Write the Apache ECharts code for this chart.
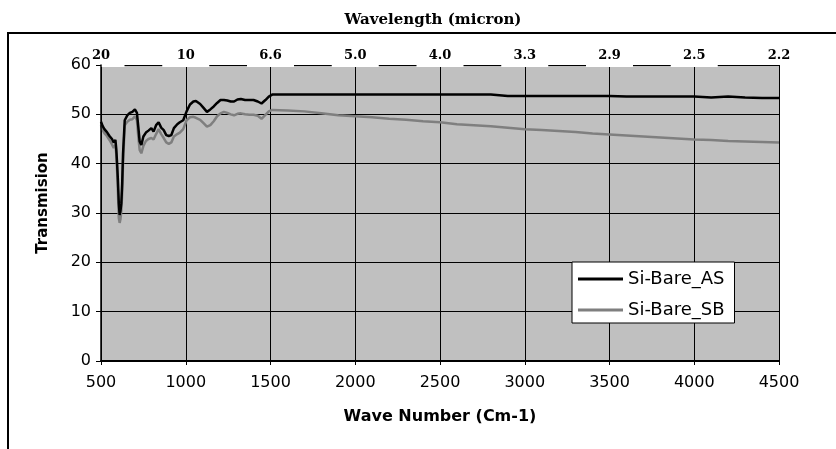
<!DOCTYPE html>
<html><head><meta charset="utf-8">
<script src="https://cdn.jsdelivr.net/npm/echarts@6/dist/echarts.min.js"></script>
<style>html,body{margin:0;padding:0;background:#fff}#c{width:836px;height:449px}</style>
</head><body><div id="c"></div>
<script>
// Wave number (cm-1) sample positions
const waveNumber = [500,510,520,535,550,565,575,585,590,595,600,605,610,615,620,625,630,640,655,670,685,700,712,720,728,738,750,765,780,797,810,825,840,855,870,885,900,915,930,950,965,985,1005,1025,1045,1060,1085,1105,1125,1145,1165,1185,1205,1225,1245,1265,1285,1305,1325,1350,1375,1400,1425,1447,1470,1490,1510,1600,1700,1800,1900,2000,2100,2200,2300,2400,2500,2600,2700,2800,2900,3000,3100,3200,3300,3400,3500,3600,3700,3800,3900,4000,4100,4200,4300,4400,4500];
// Transmission, Si-Bare_AS (black)
const siBareAS = [48.5,47.6,47.0,46.4,45.6,45.0,44.3,44.8,43.0,40.0,36.5,32.0,29.6,30.5,32.0,36.0,42.0,48.8,49.8,50.3,50.5,51.0,50.3,47.5,44.5,43.8,45.5,46.3,46.7,47.2,46.5,47.8,48.4,47.3,46.8,45.8,45.6,45.8,47.2,48.0,48.4,48.8,50.6,52.0,52.6,52.7,52.1,51.3,50.5,51.0,51.6,52.3,52.9,52.9,52.8,52.6,52.6,53.0,53.1,52.9,52.9,52.9,52.6,52.2,52.9,53.6,54.0,54.0,54.0,54.0,54.0,54.0,54.0,54.0,54.0,54.0,54.0,54.0,54.0,54.0,53.7,53.7,53.7,53.7,53.7,53.7,53.7,53.6,53.6,53.6,53.6,53.6,53.4,53.6,53.4,53.3,53.3];
// Transmission, Si-Bare_SB (grey)
const siBareSB = [47.8,46.8,46.2,45.6,44.8,43.9,43.2,43.8,42.0,38.5,34.0,29.0,28.0,28.8,30.5,34.0,40.0,47.8,48.5,48.9,49.0,49.6,48.8,45.5,42.8,42.1,43.6,44.6,45.0,45.2,44.9,46.0,47.0,46.0,45.2,44.3,44.0,44.3,45.5,46.0,46.3,47.0,48.8,49.4,49.5,49.3,48.9,48.2,47.5,47.8,48.6,49.6,50.2,50.5,50.3,50.0,49.8,50.1,50.2,50.0,49.9,49.9,49.7,49.1,49.9,50.6,50.9,50.8,50.6,50.2,49.8,49.6,49.4,49.1,48.9,48.6,48.4,48.0,47.8,47.6,47.3,47.0,46.8,46.6,46.4,46.1,45.9,45.7,45.5,45.3,45.1,44.9,44.8,44.6,44.5,44.4,44.3];
// Top axis tick labels (wavelength, micron) at 500, 1000, ... 4500 cm-1
const wavelengthLabels = ['20','10','6.6','5.0','4.0','3.3','2.9','2.5','2.2'];
const seriesNames = ['Si-Bare_AS','Si-Bare_SB'];

const SANS = 'DejaVu Sans';
const SERIF = 'DejaVu Serif';
const chart = echarts.init(document.getElementById('c'), null, {renderer:'canvas'});
const topRich = {fontFamily: SERIF, fontWeight: 'bold', fontSize: 13, color: '#000', width: 47, align: 'center', padding: [4,0,5,0]};
chart.setOption({
  animation: false,
  backgroundColor: '#fff',
  graphic: [{type:'rect', z: -1, shape:{x:8, y:33, width:1000, height:1000}, style:{fill:'none', stroke:'#000', lineWidth:2}}],
  title: {text: 'Wavelength (micron)', left: 428, top: 8, textAlign: 'center',
    textStyle: {fontFamily: SERIF, fontWeight: 'bold', fontSize: 15, color: '#000'}},
  legend: {
    data: seriesNames, orient: 'vertical', left: 572, top: 262,
    backgroundColor: '#fff', borderColor: '#000', borderWidth: 1,
    padding: [8,10,4,6], itemGap: 13, itemWidth: 45, itemHeight: 3, icon: 'rect',
    textStyle: {fontFamily: SANS, fontSize: 18, color: '#000'}
  },
  grid: {left: 101, right: 57, top: 65, bottom: 88, show: true, backgroundColor: '#c0c0c0', borderWidth: 0},
  xAxis: [{
    type: 'value', position: 'bottom', min: 500, max: 4500, interval: 500,
    name: 'Wave Number (Cm-1)', nameLocation: 'middle', nameGap: 48,
    nameTextStyle: {fontFamily: SANS, fontWeight: 'bold', fontSize: 16, color: '#000'},
    axisLine: {show: true, lineStyle: {color: '#000', width: 2}},
    axisTick: {show: true, length: 4, lineStyle: {color: '#000'}},
    axisLabel: {fontFamily: SANS, fontSize: 16, color: '#000', margin: 14, formatter: v => String(v)},
    splitLine: {show: true, lineStyle: {color: '#000', width: 1}}
  },{
    type: 'value', position: 'top', min: 500, max: 4500, interval: 500, z: 10,
    axisLine: {show: false},
    axisTick: {show: false}, splitLine: {show: false},
    axisLabel: {margin: -2, formatter: function(v){
        const i = Math.round((v - 500) / 500);
        const t = wavelengthLabels[i];
        return (i === wavelengthLabels.length - 1 ? '{n|' : '{w|') + t + '}';
      },
      rich: {w: Object.assign({backgroundColor: '#fff'}, topRich), n: Object.assign({}, topRich)}
    }
  }],
  yAxis: [{
    type: 'value', min: 0, max: 60, interval: 10, z: 12,
    name: 'Transmision', nameLocation: 'middle', nameGap: 50,
    nameTextStyle: {fontFamily: SANS, fontWeight: 'bold', fontSize: 15, color: '#000', padding: [0,0,0,20]},
    axisLine: {show: true, lineStyle: {color: '#000', width: 1.5}},
    axisTick: {show: true, length: 5, lineStyle: {color: '#000'}},
    axisLabel: {fontFamily: SANS, fontSize: 16, color: '#000', margin: 10},
    splitLine: {show: false}
  },{
    type: 'value', min: 0, max: 60, interval: 10, z: 0, position: 'left',
    axisLine: {show: false}, axisTick: {show: false}, axisLabel: {show: false},
    splitLine: {show: true, lineStyle: {color: '#000', width: 1}}
  }],
  series: [
    {name: seriesNames[0], type: 'line', xAxisIndex: 0, yAxisIndex: 0, showSymbol: false, symbol: 'none',
     data: waveNumber.map((x,i) => [x, siBareAS[i]]), color: '#000', lineStyle: {color: '#000', width: 2.5}, z: 3},
    {name: seriesNames[1], type: 'line', xAxisIndex: 0, yAxisIndex: 0, showSymbol: false, symbol: 'none',
     data: waveNumber.map((x,i) => [x, siBareSB[i]]), color: '#7f7f7f', lineStyle: {color: '#7f7f7f', width: 2.5}, z: 2}
  ]
});
</script></body></html>
